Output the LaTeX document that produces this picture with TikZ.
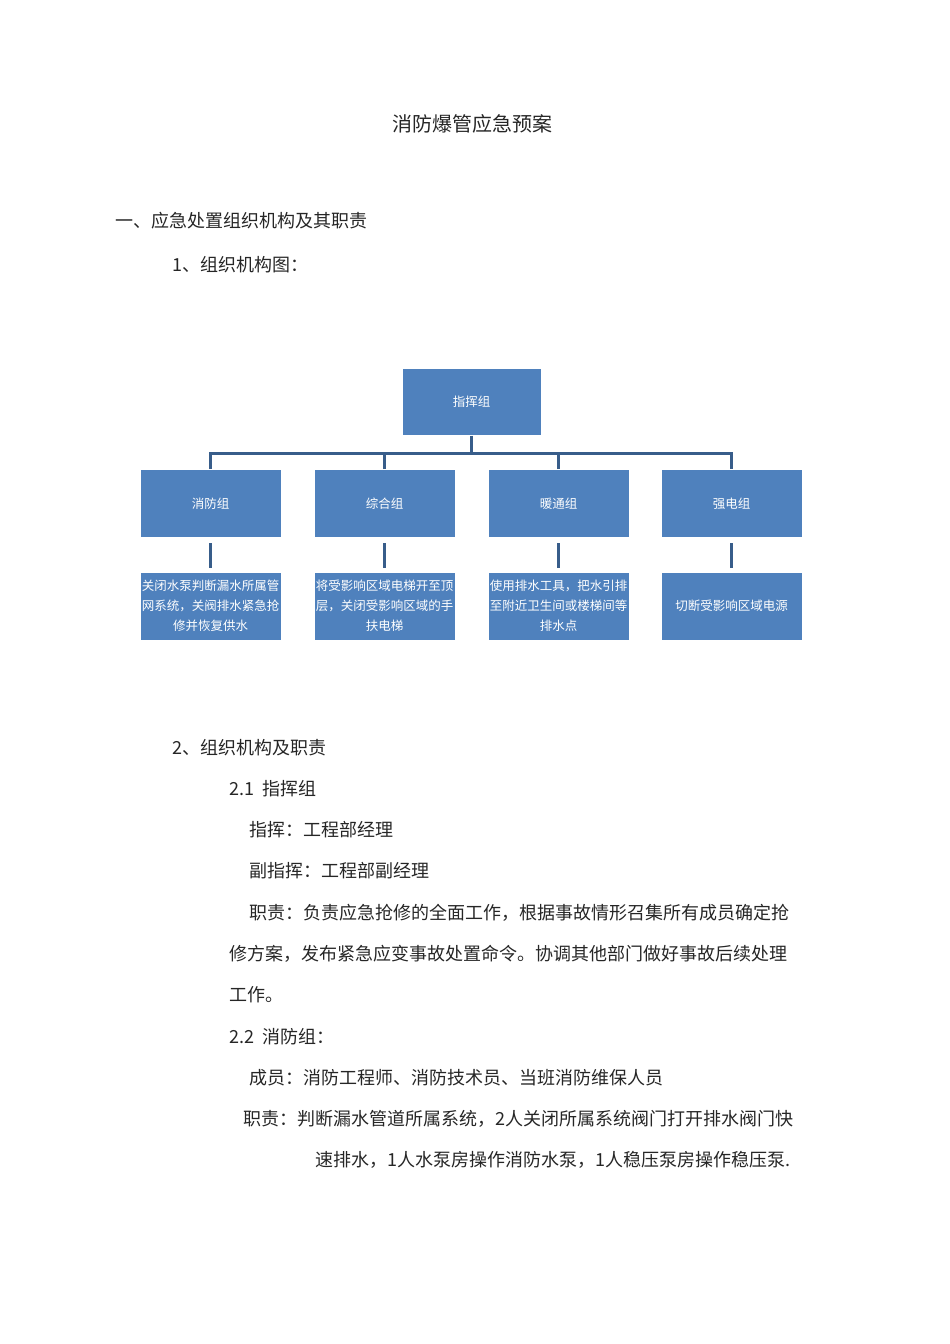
\documentclass[tikz,border=0pt]{standalone}
\usepackage{fontspec}
\setmainfont{Noto Sans CJK SC}
\newfontfamily\cjk{Noto Sans CJK SC}
\begin{document}
\begin{tikzpicture}[x=1pt,y=-1pt,
 box/.style={draw=white,line width=1pt,fill=blue!45!cyan!50!black!,minimum width=141pt,minimum height=68pt,inner sep=0pt,text=white,font=\fontsize{12.5}{20}\selectfont,align=center},
 bx/.style={box},
 ln/.style={draw=blue!40!black!70!gray,line width=3pt},
 body/.style={anchor=west,inner sep=0pt,font=\fontsize{18}{18}\selectfont,text=black!85}]
\useasboundingbox (0,0) rectangle (950,1344);
\colorlet{bfill}{blue!45!cyan!50!black}
\definecolor{bf}{RGB}{79,129,189}
\definecolor{lc}{RGB}{56,93,138}
\tikzset{box/.append style={fill=bf}, ln/.style={draw=lc,line width=3pt}}
\node[body,anchor=center,font=\fontsize{20}{20}\selectfont] (title) at (472,124) {消防爆管应急预案};
\node[body] (h1) at (115,221) {一、应急处置组织机构及其职责};
\node[body] (h2) at (172,265) {1、组织机构图：};
\node[box,minimum width=139pt,minimum height=67pt] (top) at (471.5,401.5) {指挥组};
\node[box] (a) at (210.5,503.5) {消防组};
\node[box] (b) at (384.5,503.5) {综合组};
\node[box] (c) at (558.5,503.5) {暖通组};
\node[box] (d) at (731.5,503.5) {强电组};
\node[box] (a2) at (210.5,606) {关闭水泵判断漏水所属管\\网系统，关阀排水紧急抢\\修并恢复供水};
\node[box] (b2) at (384.5,606) {将受影响区域电梯开至顶\\层，关闭受影响区域的手\\扶电梯};
\node[box] (c2) at (558.5,606) {使用排水工具，把水引排\\至附近卫生间或楼梯间等\\排水点};
\node[box] (d2) at (731.5,606) {切断受影响区域电源};
\coordinate (bus) at (471.5,453);
\draw[ln] (top.south) -- (bus);
\draw[ln] (a.north) -- (a.north |- bus) -- (d.north |- bus) -- (d.north);
\draw[ln] (b.north) -- (b.north |- bus);
\draw[ln] (c.north) -- (c.north |- bus);
\foreach \p in {a,b,c,d}{\draw[ln] ([yshift=-5pt]\p.south) -- ([yshift=4pt]\p2.north);}
\node[body] (s2) at (172,748) {2、组织机构及职责};
\node[body] (s21) at (229,789) {2.1\ \ 指挥组};
\node[body] (l1) at (249,830) {指挥：工程部经理};
\node[body] (l2) at (249,871) {副指挥：工程部副经理};
\node[body] (l3) at (249,913) {职责：负责应急抢修的全面工作，根据事故情形召集所有成员确定抢};
\node[body] (l4) at (229,954) {修方案，发布紧急应变事故处置命令。协调其他部门做好事故后续处理};
\node[body] (l5) at (229,995) {工作。};
\node[body] (s22) at (229,1037) {2.2\ \ 消防组：};
\node[body] (l6) at (249,1078) {成员：消防工程师、消防技术员、当班消防维保人员};
\node[body] (l7) at (243,1119) {职责：判断漏水管道所属系统，2人关闭所属系统阀门打开排水阀门快};
\node[body] (l8) at (315,1160) {速排水，1人水泵房操作消防水泵，1人稳压泵房操作稳压泵.};
\end{tikzpicture}
\end{document}
